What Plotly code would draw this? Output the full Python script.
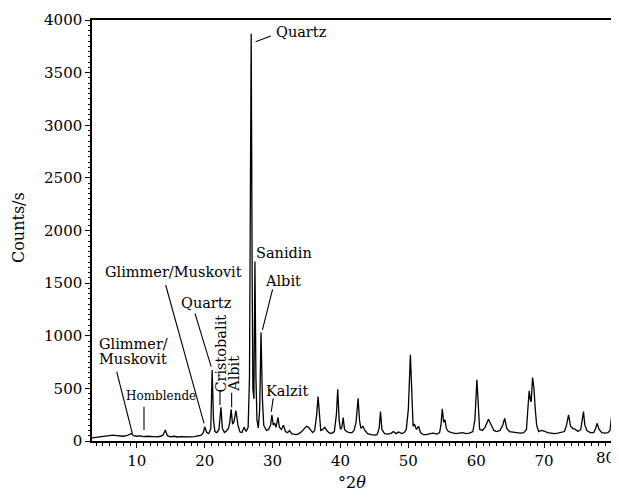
import plotly.graph_objects as go

# ---- data ----
two_theta = [3.4, 4.0, 4.5, 5.0, 5.5, 6.0, 6.5, 7.0, 7.5, 8.0, 8.5, 8.9, 9.2, 9.5, 10.0, 10.5,
             11.0, 11.5, 12.0, 12.5, 13.0, 13.5, 13.9, 14.2, 14.5, 15.0, 15.5, 16.0, 16.5, 17.0,
             17.5, 18.0, 18.5, 19.0, 19.5, 19.8, 20.0, 20.3, 20.6, 20.9, 21.1, 21.3, 21.5, 21.8,
             22.1, 22.4, 22.6, 22.9, 23.2, 23.5, 23.7, 23.9, 24.1, 24.3, 24.6, 24.9, 25.2, 25.5,
             25.8, 26.1, 26.4, 26.6, 26.75, 26.85, 27.0, 27.1, 27.25, 27.4, 27.55, 27.7, 27.9,
             28.1, 28.3, 28.5, 28.7, 28.9, 29.1, 29.4, 29.7, 29.9, 30.1, 30.3, 30.5, 30.8, 31.0,
             31.3, 31.6, 31.9, 32.2, 32.5, 32.8, 33.1, 33.5, 33.9, 34.3, 34.7, 35.0, 35.3, 35.6,
             35.9, 36.2, 36.5, 36.7, 36.9, 37.1, 37.4, 37.7, 38.0, 38.3, 38.7, 39.1, 39.4, 39.6,
             39.8, 40.0, 40.2, 40.4, 40.6, 40.9, 41.3, 41.7, 42.0, 42.3, 42.6, 42.8, 43.0, 43.3,
             43.6, 44.0, 44.5, 45.0, 45.4, 45.7, 45.9, 46.1, 46.5, 47.0, 47.5, 47.8, 48.2, 48.6,
             49.0, 49.4, 49.7, 50.0, 50.3, 50.5, 50.7, 50.9, 51.2, 51.5, 51.8, 52.2, 52.7, 53.2,
             53.7, 54.2, 54.6, 54.8, 55.0, 55.2, 55.4, 55.6, 55.9, 56.4, 57.0, 57.5, 58.0, 58.5,
             59.0, 59.5, 59.8, 60.1, 60.3, 60.5, 60.9, 61.3, 61.8, 62.2, 62.6, 63.0, 63.5, 63.9,
             64.2, 64.5, 64.9, 65.4, 66.0, 66.5, 67.0, 67.4, 67.6, 67.8, 68.0, 68.1, 68.3, 68.5,
             68.7, 68.9, 69.2, 69.6, 70.0, 70.5, 71.0, 71.5, 72.0, 72.5, 73.0, 73.3, 73.6, 73.9,
             74.2, 74.6, 75.0, 75.4, 75.6, 75.8, 76.0, 76.3, 76.8, 77.3, 77.6, 77.8, 78.1, 78.5,
             79.0, 79.4, 79.7, 79.9, 80.0]
counts = [30, 35, 38, 40, 45, 50, 55, 52, 48, 45, 50, 60, 70, 50, 45, 48,
          42, 45, 40, 42, 40, 45, 60, 105, 50, 40, 45, 38, 42, 40,
          45, 40, 42, 45, 55, 80, 135, 80, 70, 120, 675, 200, 90, 80,
          110, 320, 120, 80, 95, 120, 180, 300, 160, 180, 288, 150, 85, 80,
          130, 90, 130, 600, 2850, 3870, 1500, 500, 400, 1705, 600, 200, 124,
          300, 1030, 400, 150, 120, 100, 110, 150, 247, 150, 170, 130, 225, 130,
          110, 150, 90, 80, 100, 70, 65, 60, 70, 90, 120, 140, 130, 100,
          80, 100, 250, 422, 200, 100, 110, 130, 100, 80, 70, 90, 250, 492,
          200, 110, 130, 222, 110, 90, 80, 80, 100, 180, 406, 200, 120, 140,
          100, 70, 60, 55, 60, 120, 279, 110, 70, 65, 75, 90, 70, 85,
          70, 80, 110, 300, 819, 400, 140, 160, 110, 140, 80, 60, 60, 70,
          75, 65, 80, 150, 305, 180, 200, 120, 90, 80, 70, 75, 80, 70,
          75, 90, 200, 581, 300, 110, 100, 130, 207, 150, 100, 90, 100, 150,
          216, 120, 90, 85, 80, 75, 80, 110, 300, 476, 380, 380, 603, 500,
          300, 150, 90, 100, 95, 80, 75, 70, 75, 80, 90, 150, 248, 140,
          120, 110, 90, 110, 200, 279, 150, 100, 80, 80, 120, 168, 110, 80,
          75, 80, 100, 200, 267]

x_ticks = [10, 20, 30, 40, 50, 60, 70, 80]
x_tick_labels = ["10", "20", "30", "40", "50", "60", "70", "80"]
y_ticks = [0, 500, 1000, 1500, 2000, 2500, 3000, 3500, 4000]

FONT = "DejaVu Serif"

fig = go.Figure()
fig.add_trace(go.Scatter(x=two_theta, y=counts, mode="lines",
                         line=dict(color="black", width=1.3), hoverinfo="skip",
                         showlegend=False))

def label(text, x, y, xanchor="center", size=14.5, angle=0):
    fig.add_annotation(x=x, y=y, text=text, showarrow=False, xanchor=xanchor,
                       yanchor="middle", textangle=angle,
                       font=dict(family=FONT, size=size, color="black"))

def leader(x0, y0, x1, y1):
    fig.add_shape(type="line", x0=x0, y0=y0, x1=x1, y1=y1, xref="x", yref="y",
                  line=dict(color="black", width=1.1))

# peak labels
label("Quartz", 30.2, 3886, xanchor="left")
leader(27.5, 3794, 29.75, 3848)
label("Sanidin", 27.3, 1786, xanchor="left")
label("Albit", 31.5, 1523)
leader(30.0, 1441, 28.5, 1055)
label("Kalzit", 32.1, 478)
leader(30.1, 405, 29.8, 278)
label("Glimmer/Muskovit", 15.37, 1603)
leader(14.25, 1482, 19.9, 168)
label("Quartz", 20.23, 1314)
leader(18.57, 1213, 20.95, 706)
label("Cristobalit", 22.35, 827, angle=-90)
leader(22.25, 478, 22.25, 342)
label("Albit", 24.2, 640, angle=-90)
leader(23.97, 459, 23.97, 320)
label("Glimmer/", 4.1, 920, xanchor="left")
label("Muskovit", 4.1, 780, xanchor="left")
leader(7.04, 658, 9.34, 73)
label("Homblende", 13.49, 430, size=12)
leader(11.06, 326, 11.06, 105)

# last x tick label drawn as annotation so it stays inside the window (as in the reference)
fig.add_annotation(x=x_ticks[-1], y=0, xref="x", yref="paper", text=x_tick_labels[-1],
                   showarrow=False, xanchor="right", yanchor="top", yshift=-6, xshift=5,
                   font=dict(family=FONT, size=15, color="black"))

# y-axis title (paper coords from plot-area pixels: area 520 x 421 px)
fig.add_annotation(x=(18 - 92) / 520, y=(441 - 228) / 421, xref="paper", yref="paper",
                   text="Counts/s", showarrow=False, textangle=-90,
                   xanchor="center", yanchor="middle",
                   font=dict(family=FONT, size=16, color="black"))

# page body has an 8px margin: size figure so the plot area lands where the reference has it
fig.update_layout(
    width=611, height=484,
    margin=dict(l=84, r=7, t=12, b=51, autoexpand=False),
    paper_bgcolor="white", plot_bgcolor="white",
    font=dict(family=FONT, size=15, color="black"),
    xaxis=dict(range=[3.4, 80], tickvals=x_ticks,
               ticktext=x_tick_labels[:-1] + [""],
               ticks="outside", ticklen=5,
               tickcolor="black", showline=True, linecolor="black", linewidth=1.5,
               mirror=True, showgrid=False, zeroline=False, automargin=False,
               minor=dict(dtick=1, ticks="outside", ticklen=3, tickcolor="black"),
               title=dict(text="°2<i>θ</i>", standoff=9, font=dict(size=16)),
               tickfont=dict(size=15)),
    yaxis=dict(range=[0, 4000], tickvals=y_ticks, ticks="outside", ticklen=5,
               tickcolor="black", showline=True, linecolor="black", linewidth=1.5,
               mirror=True, showgrid=False, zeroline=False, automargin=False,
               minor=dict(dtick=50, ticks="outside", ticklen=2.5, tickcolor="black"),
               tickfont=dict(size=15)),
)

fig.write_html("out.html")
